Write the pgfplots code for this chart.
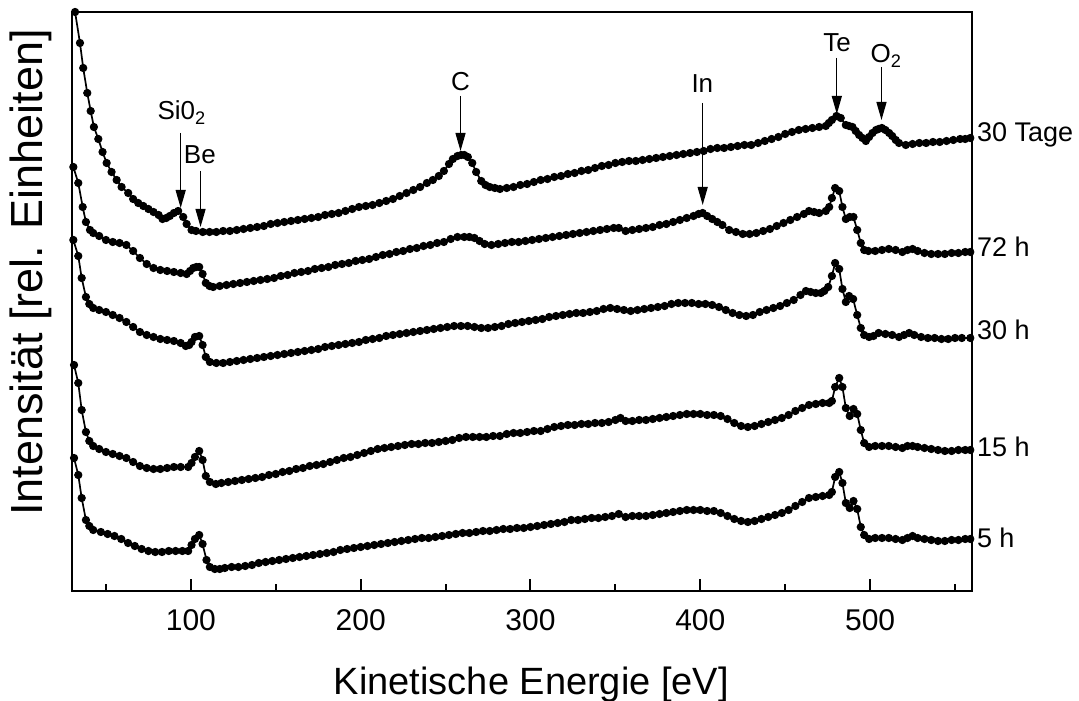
\documentclass[border=0pt]{standalone}
\usepackage{fontspec}
\setmainfont{Liberation Sans}
\usepackage{pgfplots}
\pgfplotsset{compat=1.18}
\usetikzlibrary{arrows.meta}
\pgfplotsset{spec/.style={black, line width=0.85pt, mark=*, mark size=1.8pt, mark options={solid, fill=black, line width=0.5pt}}}
\begin{document}
\begin{tikzpicture}
\begin{axis}[
  at={(0,0)}, anchor=south west,
  scale only axis, width=450pt, height=289.5pt,
  xmin=30, xmax=560, ymin=0, ymax=579,
  xtick={100,200,300,400,500},
  minor xtick={50,150,250,350,450,550},
  ytick=\empty,
  xtick pos=left,
  xtick align=inside,
  major tick length=6pt, minor tick length=3.5pt,
  xtick style={black, line width=1pt},
  axis line style={line width=1.3pt},
  /pgf/number format/assume math mode=true,
  xticklabel style={font=\fontsize{15}{18}\selectfont, anchor=base, yshift=-19.5pt},
  clip=false,
]
% 5 h
\addplot[spec] coordinates {(31.2,133)(33.7,116)(35.7,93)(38.2,71)(40.2,65)(42.5,61)(47,59)(51,57)(55,55)(59,52)(63,48)(67,45)(71,42)(75,40)(79,39)(83,39)(87,40)(91,40)(95,40)(98.4,40)(100.4,46)(102.4,52)(104.9,56)(106.9,47)(109.2,31)(111.2,24)(114.1,22)(117,22)(120,23)(124,24)(128,24)(132,25)(136,26)(140,28)(144,29)(148,30)(152,31)(156,32)(160,33)(164,34)(168,35)(172,36)(176,37)(180,38)(184,39)(188,41)(192,42)(196,43)(200,44)(204,45)(208,46)(212,47)(216,48)(220,49)(224,50)(228,51)(232,52)(236,53)(240,53)(244,54)(248,55)(252,56)(256,57)(260,58)(264,58)(268,59)(272,60)(276,60)(280,61)(284,62)(288,62)(292,63)(296,63)(300,64)(304,65)(308,66)(312,67)(316,68)(320,69)(324,71)(328,71)(332,72)(336,73)(340,73)(344,74)(348,75)(352,77)(356,74)(360,75)(364,75)(368,75)(372,76)(376,77)(380,78)(384,79)(388,80)(392,81)(396,81)(400,81)(404,80)(408,80)(412,78)(416,75)(420,72)(424,70)(428,69)(432,70)(436,72)(440,74)(444,76)(448,78)(452,81)(456,85)(460,89)(464,93)(468,94)(472,95)(475.9,96)(477.5,99)(479.4,114)(481.8,119)(483.7,108)(485.7,88)(488,83)(490.2,90)(492.4,82)(494.5,64)(496.5,56)(499.4,52)(503,53)(507,53)(511,53)(515,52)(519,51)(522,53)(525,55)(528,53)(532,52)(536,51)(540,50)(544,50)(548,51)(552,51)(556,52)(559,52)};
% 15 h
\addplot[spec] coordinates {(31.2,226)(33.7,208)(35.7,181)(38.2,159)(40.2,150)(42.5,145)(46,142)(50,139)(54,137)(58,135)(62,133)(66,129)(70,125)(74,123)(78,122)(82,122)(86,123)(90,124)(94,124)(98.4,124)(100.4,128)(102.4,134)(104.9,140)(106.9,131)(108.8,115)(111.2,109)(114.7,107)(118,108)(122,109)(126,110)(130,111)(134,112)(138,113)(142,114)(146,116)(150,117)(154,119)(158,120)(162,122)(166,123)(170,125)(174,126)(178,127)(182,129)(186,131)(190,133)(194,134)(198,136)(202,138)(206,140)(210,142)(214,143)(218,144)(222,145)(226,146)(230,147)(234,147)(238,148)(242,148)(246,149)(250,150)(254,151)(258,153)(262,154)(266,154)(270,154)(274,154)(278,155)(282,155)(286,157)(290,158)(294,158)(298,159)(302,160)(306,160)(310,162)(314,164)(318,165)(322,166)(326,166)(330,167)(334,167)(338,168)(342,168)(346,169)(350,171)(353,173)(356,170)(360,170)(364,171)(368,171)(372,172)(376,173)(380,174)(384,175)(388,176)(392,177)(396,177)(400,177)(404,176)(408,176)(412,175)(416,172)(420,168)(424,165)(428,164)(432,165)(436,167)(440,169)(444,171)(448,173)(452,176)(456,180)(460,183)(464,186)(468,187)(472,188)(475.9,188)(477.5,190)(479.4,204)(481.8,213)(483.7,204)(485.7,183)(488,175)(490.2,182)(492.4,177)(494.5,161)(496.5,148)(499.4,144)(503,145)(507,145)(511,145)(515,144)(519,143)(522,145)(525,145)(528,144)(532,143)(536,142)(540,141)(544,140)(548,140)(552,141)(556,141)(559,141)};
% 30 h
\addplot[spec] coordinates {(30.8,351)(33.7,335)(35.7,313)(38.2,294)(40.2,287)(42.5,283)(46,281)(50,279)(54,276)(58,273)(62,269)(66,264)(70,259)(74,256)(78,254)(82,252)(86,251)(90,250)(94,248)(97,245)(99,246)(100.4,249)(102.4,254)(104.9,255)(106.9,246)(108.8,234)(111.2,229)(115,228)(119,228)(123,229)(127,230)(131,231)(135,232)(139,233)(143,234)(147,235)(151,236)(155,237)(159,238)(163,239)(167,240)(171,241)(175,242)(179,244)(183,245)(187,246)(191,247)(195,248)(199,249)(203,251)(207,252)(211,253)(215,255)(219,256)(223,257)(227,258)(231,259)(235,260)(239,261)(243,262)(247,263)(251,264)(255,265)(259,265)(263,265)(267,264)(271,263)(275,263)(279,264)(283,265)(287,267)(291,268)(295,269)(299,270)(303,271)(307,272)(311,274)(315,275)(319,276)(323,277)(327,278)(331,278)(335,279)(339,280)(343,282)(347,283)(351,282)(355,281)(359,280)(363,281)(367,282)(371,283)(375,284)(379,285)(383,287)(387,288)(391,288)(395,288)(399,287)(403,287)(407,286)(411,284)(415,281)(419,278)(423,276)(427,275)(431,276)(435,279)(439,281)(443,283)(447,285)(451,288)(455,291)(459,296)(462.2,300)(465,299)(468,298)(471,298)(473,300)(475.3,304)(477.5,315)(479.4,328)(481.8,322)(483.7,302)(485.7,289)(487.6,295)(490,292)(492.4,276)(494.5,263)(496.5,256)(499.4,254)(502,255)(505,258)(509,257)(513,256)(517,254)(520,256)(523,258)(526,256)(530,254)(534,253)(538,253)(542,252)(546,252)(550,253)(554,253)(559,253)};
% 72 h
\addplot[spec] coordinates {(30.8,424)(33.7,408)(36.3,384)(38.2,369)(40.6,361)(42.5,358)(46,355)(50,351)(54,349)(58,348)(62,346)(66,340)(70,333)(74,327)(78,323)(82,321)(86,320)(90,319)(94,318)(97.5,317)(99.5,320)(101.4,323)(103.2,324)(104.9,324)(106.9,317)(108.8,308)(111,305)(113.1,304)(117,305)(121,306)(125,307)(129,308)(133,309)(137,310)(141,311)(145,312)(149,313)(153,315)(157,316)(161,318)(165,319)(169,320)(173,322)(177,323)(181,324)(185,326)(189,327)(193,328)(197,330)(201,331)(205,332)(209,334)(213,336)(217,337)(221,339)(225,340)(229,342)(233,343)(237,345)(241,346)(245,348)(249,349)(253,352)(257,354)(261,354)(264,354)(267,353)(270,350)(273,347)(277,346)(281,347)(285,348)(289,349)(293,349)(297,350)(301,351)(305,352)(309,353)(313,354)(317,355)(321,356)(325,357)(329,358)(333,359)(337,360)(341,361)(345,362)(349,363)(352,363)(356,360)(360,361)(364,362)(368,363)(372,364)(376,366)(380,367)(384,369)(388,371)(392,373)(396,375)(399,377)(401.4,378)(404,375)(407,372)(410,369)(413,366)(417,361)(421,359)(425,357)(429,357)(433,358)(437,360)(441,362)(445,365)(449,368)(453,371)(457,374)(461,377)(464,380)(467,379)(470,378)(473.9,380)(475.9,384)(477.5,393)(479.4,403)(481.8,400)(483.7,384)(485.7,372)(488,374)(490.2,374)(492.4,361)(494.5,348)(496.5,341)(499,340)(503,340)(507,341)(511,342)(515,341)(519,339)(522,341)(525,342)(528,340)(532,338)(536,337)(540,337)(544,337)(548,338)(552,338)(556,339)(559,339)};
% 30 Tage
\addplot[spec] coordinates {(31.8,579)(34.7,548)(36.6,523)(39,498)(41,480)(42.9,464)(45.5,452)(48,439)(50.4,428)(53.3,419)(56.3,411)(59.2,404)(63.1,398)(66,392)(69,388)(72,385)(75,382)(78,379)(81,376)(83.3,372)(85.5,373)(87.6,375)(90,378)(92.5,380)(95.5,374)(97.5,367)(100.4,361)(103,360)(107,359)(111,359)(115,359)(119,360)(123,360)(127,361)(131,362)(135,363)(139,364)(143,365)(147,367)(151,368)(155,369)(159,370)(163,371)(167,372)(171,373)(175,374)(179,376)(183,377)(187,378)(191,380)(195,382)(199,384)(203,385)(207,386)(211,388)(215,390)(219,392)(223,395)(227,398)(231,401)(235,404)(239,408)(242.5,411)(246,415)(249,420)(252,427)(254.3,432)(257,435)(259.2,436)(261,436)(263.1,434)(265.7,428)(268,419)(271,410)(273.5,406)(276,404)(279,403)(282,402)(286,403)(290,404)(294,406)(298,407)(302,409)(306,411)(310,412)(314,414)(318,415)(322,417)(326,418)(330,420)(334,421)(338,423)(342,425)(346,426)(350,428)(354,429)(358,430)(362,430)(366,431)(370,432)(374,433)(378,434)(382,435)(386,436)(390,437)(394,438)(398,439)(402,440)(406,442)(410,443)(414,443)(418,444)(422,445)(426,446)(430,446)(434,448)(438,450)(442,452)(446,454)(450,457)(454,459)(458,461)(462,462)(466,463)(470,464)(473.9,465)(475.7,468)(477.5,471)(480.2,475)(482.7,473)(485.7,466)(487.6,465)(489.6,464)(491.5,460)(493.5,456)(495.5,453)(497.5,450)(499.4,454)(501.4,458)(503.5,461)(505,462)(506.9,463)(509,461)(511.2,458)(513,455)(515.1,451)(517,448)(521,446)(525,447)(529,448)(533,448)(537,449)(541,449)(545,450)(549,451)(553,452)(556,452)(559,453)};
% annotations
\begin{scope}[every node/.style={font=\fontsize{13}{15}\selectfont, inner sep=0pt}]
\node[anchor=base] at (axis cs:94.7,471) {Si0\textsubscript{2}};
\node[anchor=base] at (axis cs:105.3,427) {Be};
\node[anchor=base] at (axis cs:258.8,500) {C};
\node[anchor=base] at (axis cs:401.2,498) {In};
\node[anchor=base] at (axis cs:480.6,539) {Te};
\node[anchor=base] at (axis cs:509.5,528) {O\textsubscript{2}};
\end{scope}
\begin{scope}[every node/.style={font=\fontsize{13.5}{16}\selectfont, inner sep=0pt}]
\node[anchor=base west, xshift=2.3pt] at (axis cs:560,449) {30 Tage};
\node[anchor=base west, xshift=2.3pt] at (axis cs:560,334) {72 h};
\node[anchor=base west, xshift=2.3pt] at (axis cs:560,251) {30 h};
\node[anchor=base west, xshift=2.3pt] at (axis cs:560,134) {15 h};
\node[anchor=base west, xshift=2.3pt] at (axis cs:560,44) {5 h};
\end{scope}
\begin{scope}[line width=0.6pt, -{Triangle[length=9pt,width=5pt]}]
\draw (axis cs:94,458) -- (axis cs:94,383);
\draw (axis cs:105.7,420) -- (axis cs:105.7,364);
\draw (axis cs:258.8,495) -- (axis cs:258.8,440);
\draw (axis cs:401.4,488) -- (axis cs:401.4,386);
\draw (axis cs:480.4,533) -- (axis cs:480.4,477);
\draw (axis cs:506.7,524) -- (axis cs:506.7,471);
\end{scope}
\node[anchor=base, rotate=90, inner sep=0pt, font=\fontsize{22.5}{27}\selectfont] at (axis cs:12.35,318.5) {Intensität [rel. Einheiten]};
\node[anchor=base, inner sep=0pt, font=\fontsize{19}{23}\selectfont] at (axis cs:300.5,-103) {Kinetische Energie [eV]};
\end{axis}
\pgfresetboundingbox
\path[use as bounding box] (-36pt,-54.5pt) rectangle (503.5pt,295.5pt);
\end{tikzpicture}
\end{document}
